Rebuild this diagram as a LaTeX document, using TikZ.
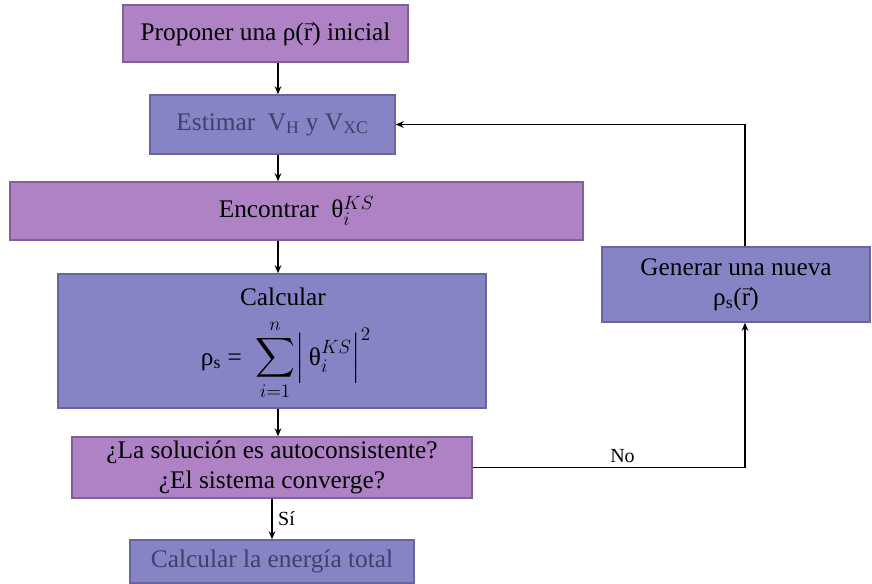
\documentclass[tikz,border=0pt]{standalone}
\usepackage{amsmath}
\usepackage{fontspec}
\setmainfont{Liberation Serif}
\usetikzlibrary{arrows.meta}
\definecolor{lila}{RGB}{174,130,196}
\definecolor{lilaborde}{RGB}{128,96,152}
\definecolor{azul}{RGB}{135,132,198}
\definecolor{azulborde}{RGB}{104,101,162}
\definecolor{gristexto}{RGB}{66,62,108}
\tikzset{
  pbox/.style={draw=lilaborde, fill=lila, line width=1.1pt, inner sep=0pt, align=center, font=\fontsize{19}{22.5}\selectfont},
  bbox/.style={draw=azulborde, fill=azul, line width=1.1pt, inner sep=0pt, align=center, font=\fontsize{19}{22.5}\selectfont},
  etiq/.style={inner sep=1pt, font=\fontsize{15}{18}\selectfont},
  arr/.style={line width=1.3pt, -{Stealth[length=6pt,width=5pt]}}
}

\begin{document}
\begin{tikzpicture}[x=0.75pt, y=-0.75pt]
		%%%%% START %%%%%
		\useasboundingbox (0,0) rectangle (872,583);
		
		\node[pbox, minimum width=213.75pt, minimum height=42.75pt] (b1) at (265.5,33.5) {Proponer una ρ($\vec{\mathrm{r}}$) inicial};
		\node[bbox, minimum width=183.75pt, minimum height=44.25pt, text=gristexto] (b2) at (272.5,124.5) {Estimar\ \ V\textsubscript{H} y V\textsubscript{XC}};
		\node[pbox, minimum width=429.75pt, minimum height=43.5pt] (b3) at (296.5,211) {Encontrar\ \ θ$_i^{KS}$};
		\node[bbox, minimum width=321pt, minimum height=100.5pt] (b4) at (272,341) {};
		\node[font=\fontsize{19}{22.5}\selectfont, inner sep=0pt] (calc) at (283,297) {Calcular};
		\node[inner sep=0pt] (suma) at (286,360) {{\fontsize{19}{22.5}\selectfont ρ\textsubscript{s} =}\quad {\fontsize{20}{24}\selectfont$\displaystyle\sum_{i=1}^{n}\Bigl|\,\text{\fontsize{19}{22.5}\selectfont θ}_i^{KS}\Bigr|^2$}};
		\node[pbox, minimum width=300pt, minimum height=45.75pt] (b5) at (272,467.5) {¿La solución es autoconsistente?\\ ¿El sistema converge?};
		\node[bbox, minimum width=213pt, minimum height=32.25pt, text=gristexto] (b6) at (272,561.5) {Calcular la energía total};
		\node[bbox, minimum width=201pt, minimum height=56.25pt] (b7) at (736,284.5) {Generar una nueva\\ ρ\textsubscript{s}($\vec{\mathrm{r}}$)};
		
		\coordinate (eje) at (278,0);
		\coordinate (vuelta) at (745,0);
		
		\draw[arr] (b1.south -| eje) -- (b2.north -| eje);
		\draw[arr] (b2.south -| eje) -- (b3.north -| eje);
		\draw[arr] (b3.south -| eje) -- (b4.north -| eje);
		\draw[arr] (b4.south -| eje) -- (b5.north -| eje);
		\draw[arr] (b5.south) -- (b6.north) node[midway, right=3pt, etiq] (si) {Sí};
		
		\draw[arr] (b5.east) -- (b5.east -| vuelta) node[pos=0.55, above=2pt, etiq] (no) {No} -- (b7.south -| vuelta);
		\draw[arr] (b7.north -| vuelta) -- (b2.east -| vuelta) -- (b2.east);
		
		%%%%% END %%%%%
	\end{tikzpicture}
\end{document}
